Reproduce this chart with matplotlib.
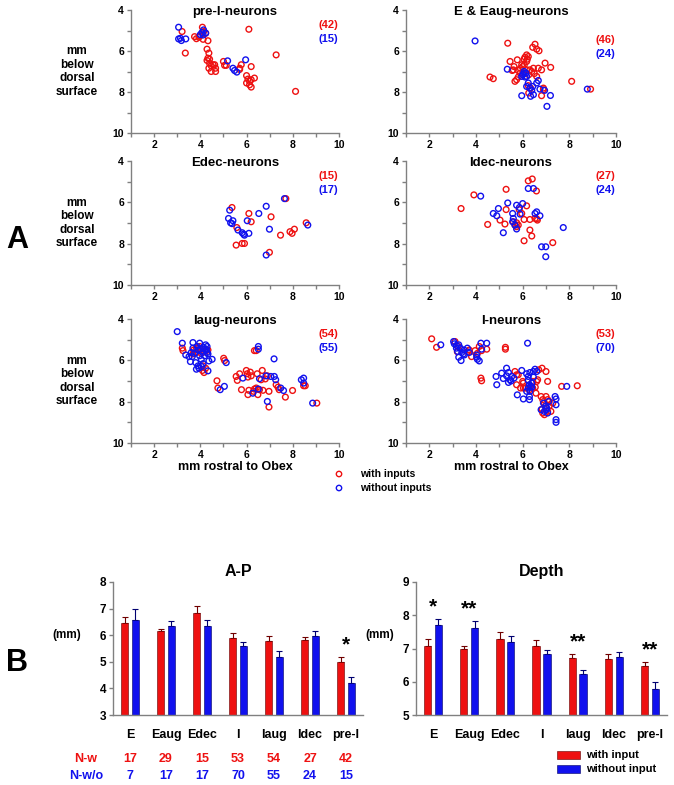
import numpy as np
import matplotlib
matplotlib.use("Agg")
from matplotlib import pyplot as plt
from matplotlib.patches import Rectangle

plt.rcParams['font.family'] = ['Liberation Sans', 'DejaVu Sans']
plt.rcParams['font.weight'] = 'bold'

W, H = 674, 785
RED = '#ee1111'
BLUE = '#1111ee'
GRAY = '#808080'

# ---------------- scatter data (mm rostral to obex, mm below dorsal surface) ----------------
preI_w_x = [3.21, 3.35, 3.75, 3.83, 3.94, 4.09, 4.14, 4.12, 4.23, 4.33, 4.29, 4.37, 4.33, 4.40, 4.29,
            4.40, 4.47, 4.37, 4.55, 4.62, 4.47, 4.66, 4.66, 5.00, 5.05, 5.12, 5.70, 5.77, 6.00, 6.06,
            6.00, 6.13, 6.20, 6.34, 6.20, 6.13, 6.10, 6.20, 7.28, 8.12, 5.70, 3.97]
preI_w_y = [5.05, 6.10, 5.30, 5.40, 5.33, 4.84, 5.05, 5.43, 5.13, 5.50, 5.91, 6.10, 6.35, 6.40, 6.46,
            6.60, 6.72, 6.84, 6.67, 6.67, 7.00, 7.00, 6.84, 6.51, 6.70, 6.70, 6.84, 6.67, 7.20, 7.37,
            7.56, 7.48, 7.40, 7.32, 7.76, 7.65, 4.94, 6.76, 6.19, 7.97, 6.90, 5.27]
preI_wo_x = [3.06, 3.06, 3.18, 3.37, 4.00, 4.07, 4.14, 4.23, 4.12, 5.18, 5.41, 5.48, 5.58, 5.96, 3.14]
preI_wo_y = [4.84, 5.41, 5.49, 5.41, 5.20, 5.10, 4.97, 5.13, 5.22, 6.48, 6.84, 6.95, 7.03, 6.43, 5.38]

e_w_x = [5.36, 6.53, 6.43, 6.60, 6.70, 5.46, 5.77, 5.63, 5.60, 5.81, 6.00, 6.17, 6.20, 6.17, 6.06,
         6.24, 5.96, 6.07, 5.81, 5.67, 5.74, 6.17, 6.31, 6.46, 6.26, 6.67, 6.81, 6.96, 7.20, 4.60,
         4.74, 6.24, 6.34, 6.26, 6.89, 6.81, 6.89, 8.10, 8.91, 6.60, 5.89, 6.39, 5.90, 6.10, 6.50, 5.55]
e_w_y = [5.62, 5.67, 5.82, 5.91, 5.99, 6.51, 6.43, 6.76, 6.92, 6.95, 6.76, 6.19, 6.40, 6.51, 6.40,
         6.27, 6.67, 6.67, 7.27, 7.48, 7.40, 6.92, 6.92, 6.84, 7.16, 6.84, 6.92, 6.59, 6.80, 7.27,
         7.35, 7.69, 7.81, 8.05, 7.81, 8.18, 7.89, 7.48, 7.86, 7.24, 7.08, 7.00, 6.85, 6.30, 7.10, 6.95]
e_wo_x = [3.96, 5.34, 6.00, 6.06, 6.10, 5.96, 6.14, 6.17, 6.31, 6.43, 6.34, 6.46, 5.96, 6.67, 6.60,
          6.74, 6.94, 7.19, 7.04, 8.77, 6.39, 6.24, 6.17, 6.05]
e_wo_y = [5.51, 6.89, 7.16, 7.00, 7.27, 7.24, 7.08, 7.73, 7.81, 7.73, 8.21, 8.13, 8.18, 7.44, 7.56,
          7.86, 7.92, 8.17, 8.70, 7.86, 7.92, 7.56, 7.24, 7.10]

edec_w_x = [5.37, 6.10, 6.20, 5.58, 5.55, 5.81, 5.91, 7.06, 6.99, 7.47, 7.88, 7.97, 8.07, 8.58, 7.70]
edec_w_y = [6.25, 6.54, 6.94, 7.22, 8.07, 7.99, 7.99, 6.70, 8.42, 7.59, 7.42, 7.50, 7.30, 6.99, 5.82]
edec_wo_x = [5.27, 5.22, 5.31, 5.41, 5.63, 5.81, 5.91, 6.10, 6.03, 6.53, 6.85, 6.99, 6.85, 7.64, 8.65,
             5.87, 5.37]
edec_wo_y = [6.38, 6.78, 6.99, 6.89, 7.34, 7.47, 7.59, 7.50, 6.89, 6.54, 6.19, 7.30, 8.55, 5.82, 7.10,
             7.54, 7.03]

idec_w_x = [3.36, 3.91, 5.29, 6.24, 6.41, 6.59, 5.29, 4.50, 5.03, 5.24, 5.74, 5.81, 5.67, 6.17, 6.06,
            6.31, 6.53, 6.63, 6.31, 6.39, 6.06, 7.29, 5.96, 5.74, 5.60, 5.85, 6.60]
idec_w_y = [6.30, 5.64, 5.37, 4.96, 4.87, 5.45, 6.35, 7.07, 6.86, 7.05, 6.99, 7.10, 7.10, 6.17, 6.83,
            6.83, 6.78, 6.86, 7.34, 7.63, 7.86, 7.95, 6.54, 7.18, 6.94, 6.35, 6.80]
idec_wo_x = [4.20, 4.74, 4.89, 4.96, 5.36, 5.17, 5.57, 5.60, 5.57, 5.67, 5.74, 5.74, 5.86, 5.89, 6.00,
             6.24, 6.46, 6.53, 6.60, 6.74, 6.81, 6.99, 6.99, 7.74]
idec_wo_y = [5.70, 6.54, 6.65, 6.30, 6.03, 7.47, 6.54, 6.78, 6.94, 7.10, 7.29, 6.14, 6.25, 6.57, 6.06,
             5.33, 5.33, 6.54, 6.46, 6.65, 8.15, 8.15, 8.63, 7.22]

iaug_w_x = [3.22, 3.25, 3.71, 3.83, 3.97, 4.04, 4.19, 4.33, 3.68, 4.12, 4.09, 4.23, 4.16, 4.72, 4.76,
            5.01, 5.05, 5.55, 5.60, 5.70, 5.78, 5.99, 6.03, 6.06, 6.16, 6.06, 6.34, 6.42, 6.46, 6.56,
            6.42, 6.30, 6.49, 6.63, 6.68, 6.71, 6.90, 6.97, 6.97, 7.28, 7.36, 7.41, 7.68, 7.99, 8.47,
            8.54, 9.04, 3.97, 3.83, 6.20, 6.81, 6.34, 4.26, 6.10]
iaug_w_y = [5.41, 5.53, 5.50, 5.41, 5.50, 5.66, 5.58, 5.50, 5.69, 6.27, 6.49, 6.38, 6.59, 6.99, 7.34,
            5.90, 6.01, 6.78, 6.97, 6.65, 7.42, 6.49, 6.65, 6.81, 6.57, 7.66, 5.53, 5.53, 6.65, 7.42,
            7.34, 7.50, 7.66, 6.94, 6.49, 7.45, 6.75, 7.50, 8.26, 7.18, 7.30, 7.42, 7.78, 7.46, 7.23,
            7.23, 8.07, 5.33, 5.62, 6.75, 6.90, 7.39, 5.50, 7.45]
iaug_wo_x = [3.00, 3.22, 3.37, 3.68, 3.61, 3.65, 3.75, 3.57, 3.80, 3.90, 3.94, 3.83, 3.97, 4.00, 3.97,
             4.04, 4.09, 4.14, 4.23, 4.26, 4.29, 4.19, 4.33, 4.29, 4.37, 4.33, 4.51, 5.04, 4.86, 5.12,
             5.84, 6.51, 6.51, 6.56, 6.51, 6.27, 7.19, 7.05, 6.90, 7.26, 7.48, 7.60, 8.37, 8.47, 8.47,
             8.86, 4.12, 3.86, 3.68, 3.51, 3.90, 4.19, 6.84, 7.20, 4.05]
iaug_wo_y = [4.61, 5.17, 5.74, 5.14, 5.62, 5.82, 5.66, 6.06, 6.11, 6.27, 6.38, 6.43, 5.17, 5.46, 5.78,
             5.95, 5.62, 5.37, 5.25, 5.50, 5.62, 5.78, 5.69, 5.33, 6.03, 6.51, 5.95, 7.26, 7.42, 6.11,
             6.86, 5.33, 5.46, 6.89, 7.39, 7.59, 5.93, 6.78, 7.99, 6.94, 7.34, 7.46, 6.94, 6.86, 7.10,
             8.07, 6.16, 5.33, 5.41, 5.82, 5.50, 5.46, 6.75, 6.78, 6.30]

i_w_x = [2.10, 2.31, 3.20, 3.24, 3.63, 3.81, 3.96, 4.14, 4.46, 4.24, 4.21, 4.24, 5.26, 5.26, 5.67,
         5.74, 5.81, 6.00, 6.03, 5.91, 6.11, 6.29, 6.43, 6.54, 6.64, 6.69, 6.83, 7.00, 7.07, 7.00,
         7.07, 6.86, 6.93, 6.83, 6.93, 7.07, 7.21, 7.29, 7.67, 8.34, 5.74, 6.57, 6.60, 6.79, 6.97,
         7.14, 3.71, 3.10, 6.43, 7.14, 6.86, 4.06, 6.03]
i_w_y = [4.96, 5.37, 5.58, 5.33, 5.58, 5.82, 5.53, 5.33, 5.46, 5.53, 6.86, 6.99, 5.37, 5.46, 6.54,
         6.70, 6.70, 7.02, 7.34, 7.34, 7.34, 7.42, 7.34, 7.30, 6.94, 6.46, 6.38, 6.54, 7.02, 7.75,
         7.90, 7.90, 8.07, 8.36, 8.63, 8.47, 8.47, 8.07, 7.26, 7.23, 7.18, 7.59, 7.02, 7.75, 8.23,
         8.20, 5.50, 5.09, 7.02, 7.99, 8.55, 5.66, 7.10]
i_wo_x = [2.49, 3.04, 3.07, 3.16, 3.26, 3.33, 3.26, 3.36, 3.39, 3.49, 3.63, 3.71, 3.46, 4.03, 4.06,
          4.14, 4.21, 4.24, 4.46, 4.03, 6.21, 4.89, 4.86, 5.10, 5.17, 5.31, 5.39, 5.39, 5.46, 5.53,
          5.63, 5.77, 6.03, 5.96, 6.17, 6.24, 6.24, 6.29, 6.24, 6.31, 6.29, 6.39, 6.39, 6.46, 6.53,
          6.60, 6.31, 6.46, 6.89, 7.00, 7.00, 7.07, 6.93, 7.03, 7.11, 7.39, 7.43, 7.43, 7.43, 7.43,
          7.89, 6.17, 6.29, 3.50, 3.16, 3.21, 6.79, 6.35, 5.50, 5.31]
i_wo_y = [5.25, 5.09, 5.20, 5.28, 5.25, 5.41, 5.85, 6.01, 5.62, 5.50, 5.41, 5.62, 5.69, 5.74, 5.95,
          6.03, 5.17, 5.46, 5.17, 5.85, 5.17, 7.18, 6.78, 6.62, 6.88, 6.75, 7.07, 6.59, 6.94, 6.78,
          6.86, 7.67, 7.87, 6.49, 6.65, 6.78, 6.97, 7.18, 7.34, 7.50, 7.75, 7.10, 7.30, 6.54, 6.43,
          6.54, 6.59, 6.81, 8.07, 8.20, 8.39, 8.55, 8.47, 8.31, 7.99, 7.75, 7.87, 8.15, 8.87, 9.00,
          7.26, 7.50, 7.90, 5.74, 5.41, 5.57, 8.39, 7.25, 7.00, 6.38]

panel_titles = ['pre-I-neurons', 'E & Eaug-neurons', 'Edec-neurons', 'Idec-neurons', 'Iaug-neurons', 'I-neurons']
panel_n_w = [42, 46, 15, 27, 54, 53]
panel_n_wo = [15, 24, 17, 24, 55, 70]
panel_data = [(preI_w_x, preI_w_y, preI_wo_x, preI_wo_y),
              (e_w_x, e_w_y, e_wo_x, e_wo_y),
              (edec_w_x, edec_w_y, edec_wo_x, edec_wo_y),
              (idec_w_x, idec_w_y, idec_wo_x, idec_wo_y),
              (iaug_w_x, iaug_w_y, iaug_wo_x, iaug_wo_y),
              (i_w_x, i_w_y, i_wo_x, i_wo_y)]

# ---------------- bar data ----------------
groups = ['E', 'Eaug', 'Edec', 'I', 'Iaug', 'Idec', 'pre-I']
n_with = [17, 29, 15, 53, 54, 27, 42]
n_without = [7, 17, 17, 70, 55, 24, 15]
ap_with = [6.47, 6.15, 6.85, 5.91, 5.78, 5.81, 5.00]
ap_with_err = [0.23, 0.10, 0.26, 0.19, 0.18, 0.14, 0.19]
ap_without = [6.56, 6.35, 6.34, 5.59, 5.19, 5.98, 4.19]
ap_without_err = [0.42, 0.17, 0.22, 0.16, 0.22, 0.17, 0.25]
ap_sig = ['', '', '', '', '', '', '*']
depth_with = [7.09, 6.98, 7.29, 7.09, 6.71, 6.68, 6.47]
depth_with_err = [0.19, 0.11, 0.20, 0.16, 0.12, 0.15, 0.13]
depth_without = [7.72, 7.63, 7.20, 6.82, 6.23, 6.73, 5.78]
depth_without_err = [0.18, 0.19, 0.18, 0.14, 0.12, 0.15, 0.20]
depth_sig = ['*', '**', '', '', '**', '', '**']


def px_axes(fig, left, right, top, bottom):
    return fig.add_axes([left / W, 1 - bottom / H, (right - left) / W, (bottom - top) / H])


def style_axes(ax):
    for s in ['top', 'right']:
        ax.spines[s].set_visible(False)
    for s in ['left', 'bottom']:
        ax.spines[s].set_color(GRAY)
        ax.spines[s].set_linewidth(1.0)
    ax.tick_params(which='both', direction='out', color=GRAY, length=3, width=1.0,
                   labelsize=7.5, pad=2)
    for lab in ax.get_xticklabels() + ax.get_yticklabels():
        lab.set_fontweight('bold')


fig = plt.figure(figsize=(W / 100, H / 100), dpi=100)

boxes = [(131, 339, 10, 133), (406, 616, 10, 133),
         (131, 339, 161, 285), (406, 616, 161, 285),
         (131, 339, 319, 443), (406, 616, 319, 443)]

for i, (box, data) in enumerate(zip(boxes, panel_data)):
    ax = px_axes(fig, *box)
    wx, wy, wox, woy = data
    ax.scatter(wx, wy, s=17, facecolors='none', edgecolors=RED, linewidths=1.0, zorder=3)
    ax.scatter(wox, woy, s=17, facecolors='none', edgecolors=BLUE, linewidths=1.0, zorder=3)
    ax.set_xlim(1, 10)
    ax.set_ylim(10, 4)
    ax.set_xticks([2, 4, 6, 8, 10])
    ax.set_xticks([1, 3, 5, 7, 9], minor=True)
    ax.set_yticks([4, 6, 8, 10])
    ax.set_yticks([5, 7, 9], minor=True)
    style_axes(ax)
    ax.text(0.5, 0.985, panel_titles[i], transform=ax.transAxes, ha='center', va='center',
            fontsize=9.5, fontweight='bold')
    ny = 0.88 if i != 1 else 0.76
    ax.text(0.95, ny, '(%d)' % panel_n_w[i], transform=ax.transAxes, ha='center', va='center',
            fontsize=8, fontweight='bold', color=RED)
    ax.text(0.95, ny - 0.115, '(%d)' % panel_n_wo[i], transform=ax.transAxes, ha='center', va='center',
            fontsize=8, fontweight='bold', color=BLUE)
    if i % 2 == 0:
        ax.text(-0.26, 0.5, 'mm\nbelow\ndorsal\nsurface', transform=ax.transAxes, ha='center',
                va='center', fontsize=8.5, fontweight='bold', linespacing=1.15)
    if i >= 4:
        ax.set_xlabel('mm rostral to Obex', fontsize=9, fontweight='bold', labelpad=1)

# overlay axes in pixel coordinates for legends
lg = fig.add_axes([0, 0, 1, 1], facecolor='none')
lg.set_xlim(0, W)
lg.set_ylim(H, 0)
lg.axis('off')
lg.scatter([339], [474], s=15, facecolors='none', edgecolors=RED, linewidths=1.0)
lg.scatter([339], [488], s=15, facecolors='none', edgecolors=BLUE, linewidths=1.0)
fig.text(360 / W, 1 - 474 / H, 'with inputs', fontsize=7.5, fontweight='bold', va='center')
fig.text(360 / W, 1 - 488 / H, 'without inputs', fontsize=7.5, fontweight='bold', va='center')

fig.text(17 / W, 1 - 240 / H, 'A', fontsize=22, fontweight='bold', ha='center', va='center')
fig.text(17 / W, 1 - 663 / H, 'B', fontsize=22, fontweight='bold', ha='center', va='center')


def bar_panel(ax, vw, ew, vo, eo, sig, ylim, title, mm_x):
    pos = np.arange(len(groups))
    vw, vo = np.array(vw), np.array(vo)
    base = ylim[0]
    ax.bar(pos - 0.15, vw - base, 0.2, bottom=base, color=RED, edgecolor='#600000', linewidth=0.4,
           zorder=2)
    ax.bar(pos + 0.15, vo - base, 0.2, bottom=base, color=BLUE, edgecolor='#000060', linewidth=0.4,
           zorder=2)
    ax.errorbar(pos - 0.15, vw, yerr=[np.zeros(len(vw)), ew], fmt='none', ecolor='#700000',
                elinewidth=0.8, capsize=2.5, capthick=0.8, zorder=1)
    ax.errorbar(pos + 0.15, vo, yerr=[np.zeros(len(vo)), eo], fmt='none', ecolor='#000070',
                elinewidth=0.8, capsize=2.5, capthick=0.8, zorder=1)
    ax.set_xlim(-0.47, 6.47)
    ax.set_ylim(*ylim)
    ax.set_xticks(pos)
    ax.set_xticklabels(groups)
    style_axes(ax)
    ax.tick_params(axis='x', length=0, labelsize=9, pad=10)
    ax.tick_params(axis='y', labelsize=8.5)
    for lab in ax.get_xticklabels() + ax.get_yticklabels():
        lab.set_fontweight('bold')
    ax.set_title(title, fontsize=11.5, fontweight='bold', pad=4)
    ax.text(mm_x, 0.6, '(mm)', transform=ax.transAxes, ha='center', va='center',
            fontsize=8.5, fontweight='bold')
    top = np.maximum(vw + np.array(ew), vo + np.array(eo))
    span = ylim[1] - ylim[0]
    for p, t, s in zip(pos, top, sig):
        if s:
            ax.text(p, t + 0.02 * span, s, ha='center', va='bottom',
                    fontsize=15, fontweight='bold')


ax_ap = px_axes(fig, 113, 363, 582, 715)
bar_panel(ax_ap, ap_with, ap_with_err, ap_without, ap_without_err, ap_sig, (3, 8), 'A-P', -0.185)
ax_d = px_axes(fig, 416, 667, 582, 715)
bar_panel(ax_d, depth_with, depth_with_err, depth_without, depth_without_err, depth_sig, (5, 9),
          'Depth', -0.145)

# N rows under A-P
tr = ax_ap.get_xaxis_transform()
ax_ap.text(-1.22, -0.33, 'N-w', transform=tr, color=RED, ha='center', va='center',
           fontsize=9, fontweight='bold', clip_on=False)
ax_ap.text(-1.22, -0.46, 'N-w/o', transform=tr, color=BLUE, ha='center', va='center',
           fontsize=9, fontweight='bold', clip_on=False)
for p, a, b in zip(range(len(groups)), n_with, n_without):
    ax_ap.text(p, -0.33, str(a), transform=tr, color=RED, ha='center', va='center',
               fontsize=9, fontweight='bold', clip_on=False)
    ax_ap.text(p, -0.46, str(b), transform=tr, color=BLUE, ha='center', va='center',
               fontsize=9, fontweight='bold', clip_on=False)

# bar legend
lg.add_patch(Rectangle((557, 751), 23, 8, facecolor=RED, edgecolor='#600000', linewidth=0.4))
lg.add_patch(Rectangle((557, 765), 23, 8, facecolor=BLUE, edgecolor='#000060', linewidth=0.4))
fig.text(586 / W, 1 - 755 / H, 'with input', fontsize=8, fontweight='bold', va='center')
fig.text(586 / W, 1 - 769 / H, 'without input', fontsize=8, fontweight='bold', va='center')

fig.savefig('out.png', dpi=100)
